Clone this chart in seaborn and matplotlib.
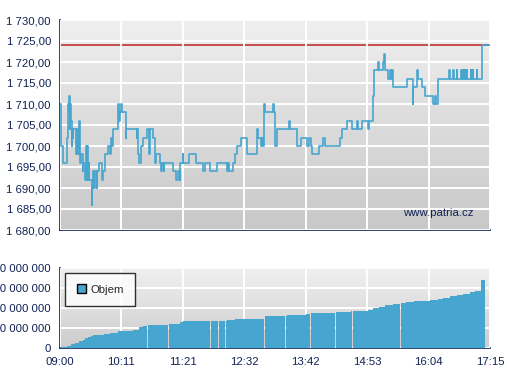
import numpy as np
import pandas as pd
import matplotlib.pyplot as plt
from matplotlib.patches import Patch
import seaborn as sns

# price trades: minutes after 09:00, price (step line)
price_t = [0, 1.2, 3.8, 7.7, 8.9, 10.0, 10.7, 11.2, 11.9, 12.7, 13.5, 14.2, 14.6, 15.3, 18.4, 19.6, 20.7,
           22.2, 23.0, 24.2, 26.1, 26.8, 28.8, 29.9, 30.7, 31.4, 32.2, 33.0, 33.7, 36.5, 37.2, 38.0, 39.1,
           39.9, 42.2, 42.9, 45.2, 48.4, 49.5, 51.5, 55.6, 57.6, 58.7, 59.9, 61.4, 67.1, 67.9, 69.1, 70.2,
           71.4, 75.6, 76.0, 88.3, 88.6, 90.1, 91.3, 93.2, 95.9, 99.8, 102.5, 103.3, 106.7, 109.4, 110.5,
           115.1, 116.6, 117.1, 119.7, 120.1, 130.4, 133.5, 136.2, 138.1, 138.5, 141.2, 141.9, 148.9, 156.6,
           164.3, 166.6, 172.7, 180.4, 192.6, 193.4, 194.2, 199.5, 201.5, 203.4, 208.4, 214.9, 226.4, 227.1,
           227.9, 231.4, 232.5, 233.7, 234.8, 236.0, 244.8, 246.4, 247.5, 250.2, 263.3, 264.4, 272.5, 277.1,
           284.0, 287.0, 289.3, 290.5, 298.5, 303.1, 305.4, 322.3, 324.3, 330.0, 335.8, 341.6, 343.4, 347.3,
           354.9, 356.1, 360.7, 361.8, 365.7, 366.9, 371.5, 372.6, 374.1, 378.0, 379.5, 381.0, 381.8, 383.7,
           399.1, 406.0, 406.7, 410.6, 412.5, 416.4, 420.2, 429.8, 431.7, 432.9, 435.5, 448.2, 448.7, 452.8,
           453.3, 456.6, 457.1, 461.6, 462.2, 462.8, 463.5, 464.1, 464.8, 465.4, 466.1, 466.7, 467.4, 468.0,
           468.9, 473.1, 473.6, 475.0, 475.5, 479.7, 480.2, 486.2, 495]
price_v = [1710, 1700, 1696, 1702, 1710, 1708, 1712, 1704, 1710, 1706, 1700, 1704, 1702, 1704, 1698, 1704, 1698,
           1706, 1696, 1698, 1694, 1696, 1692, 1700, 1692, 1700, 1692, 1696, 1692, 1686, 1690, 1694, 1690,
           1694, 1690, 1694, 1696, 1692, 1694, 1698, 1700, 1698, 1702, 1700, 1704, 1710, 1706, 1708, 1710,
           1708, 1702, 1704, 1702, 1704, 1698, 1696, 1700, 1702, 1704, 1698, 1704, 1702, 1696, 1698,
           1696, 1694, 1696, 1694, 1696, 1694, 1692, 1694, 1692, 1696, 1698, 1696, 1698, 1696,
           1694, 1696, 1694, 1696, 1694, 1696, 1694, 1696, 1698, 1700, 1702, 1698, 1700, 1704,
           1702, 1700, 1702, 1700, 1710, 1708, 1710, 1708, 1700, 1704, 1706, 1704, 1700, 1702,
           1700, 1702, 1700, 1698, 1700, 1702, 1700, 1702, 1704, 1706, 1704, 1706, 1704, 1706,
           1704, 1706, 1712, 1718, 1720, 1718, 1720, 1722, 1718, 1716, 1718, 1716, 1718, 1714,
           1716, 1710, 1714, 1718, 1716, 1714, 1712, 1710, 1712, 1710, 1716, 1718, 1716, 1718,
           1716, 1718, 1716, 1718, 1716, 1718, 1716, 1718, 1716, 1718, 1716, 1718, 1716, 1718,
           1716, 1718, 1716, 1718, 1716, 1718, 1716, 1724, 1724]
last_price = 1724

# cumulative volume steps: start minute, level (x 100 000 000)
vol_t = [0, 7.7, 12.3, 17.3, 22.2, 26.1, 29.2, 32.2, 35.3, 38.4, 43.0, 50.7, 57.6, 67.1, 84.4, 91.3, 95.2,
         101.7, 124.7, 138.1, 141.2, 191.9, 201.5, 206.4, 234.8, 260.9, 283.2, 287.8, 294.7, 316.6, 334.6,
         354.9, 360.7, 367.6, 374.1, 383.0, 391.4, 398.3, 407.5, 425.9, 435.5, 441.3, 449.0, 456.6, 464.3,
         472.0, 477.7, 484.7]
vol_v = [0.05, 0.12, 0.2, 0.27, 0.33, 0.42, 0.48, 0.53, 0.58, 0.63, 0.67, 0.72, 0.77, 0.87, 0.92, 1.07, 1.12,
         1.17, 1.22, 1.28, 1.33, 1.38, 1.43, 1.47, 1.62, 1.67, 1.72, 1.73, 1.77, 1.82, 1.87,
         1.92, 2.0, 2.05, 2.15, 2.2, 2.23, 2.28, 2.37, 2.4, 2.47, 2.52, 2.6, 2.65, 2.7,
         2.8, 2.85, 3.42]
vol_end = 489.3
vol_gaps = [100.9, 125.8, 147.7, 169.6, 173.8, 183.0, 189.2, 191.1, 236.0, 252.5, 260.2, 288.6, 297.4,
            317.7, 336.9, 392.2, 407.9, 436.7]

time_labels = ['09:00', '10:11', '11:21', '12:32', '13:42', '14:53', '16:04', '17:15']
price_ticks = [1680, 1685, 1690, 1695, 1700, 1705, 1710, 1715, 1720, 1725, 1730]
vol_ticks = [0, 1, 2, 3, 4]

sns.set_style("white")
plt.rcParams['font.family'] = ['Liberation Sans', 'DejaVu Sans']
navy = '#102255'
blue = '#47a6d0'
fs = 8.2

fig = plt.figure(figsize=(5.07, 3.8), dpi=100)
ax = fig.add_axes([60 / 507, 1 - 230 / 380, 430 / 507, 210 / 380])
ax2 = fig.add_axes([60 / 507, 1 - 348 / 380, 430 / 507, 80 / 380])

xt = np.linspace(0, 495, len(time_labels))


def style(a, top, bottom):
    grad = np.linspace(0, 1, 100).reshape(-1, 1)
    cmap = plt.matplotlib.colors.LinearSegmentedColormap.from_list('g', [top, bottom])
    lo, hi = a.get_ylim()
    a.imshow(grad, cmap=cmap, extent=[0, 495, lo, hi], aspect='auto', zorder=0)
    for s in ['top', 'right']:
        a.spines[s].set_visible(False)
    for s in ['left', 'bottom']:
        a.spines[s].set_color(navy)
        a.spines[s].set_linewidth(1.2)
    a.set_xlim(0, 495)
    a.set_xticks(xt)
    a.grid(True, color='white', linewidth=1.4, zorder=1)
    a.set_axisbelow(False)
    a.tick_params(axis='both', direction='out', length=4, width=1, color=navy, labelcolor=navy,
                  labelsize=fs, pad=2.5)


# price panel
df = pd.DataFrame({'t': price_t, 'p': price_v})
ax.set_ylim(1680, 1730)
style(ax, '#efefef', '#c8c8c8')
sns.lineplot(data=df, x='t', y='p', ax=ax, drawstyle='steps-post', color=blue, linewidth=1.2,
             estimator=None, sort=False, zorder=3)
ax.axhline(last_price, color='#c23030', linewidth=1.2, zorder=2)
ax.set_ylim(1680, 1730)
ax.set_yticks(price_ticks)
ax.set_yticklabels([f"{v:,.2f}".replace(',', ' ').replace('.', ',') for v in price_ticks])
ax.set_xticklabels([])
ax.set_xlabel('')
ax.set_ylabel('')
ax.text(0.797, 0.081, 'www.patria.cz', transform=ax.transAxes, color=navy, fontsize=fs,
        va='center', ha='left', zorder=4)

# volume panel
ax2.set_ylim(0, 4)
style(ax2, '#f0f0f0', '#cccccc')
edges = sorted(set(vol_t) | set(vol_gaps))
edges.append(vol_end)
for i in range(len(edges) - 1):
    start = edges[i]
    nxt = edges[i + 1]
    level = vol_v[np.searchsorted(vol_t, start, side='right') - 1]
    w = nxt - start - (0.9 if nxt in vol_gaps else 0)
    ax2.bar(start, level, width=w, align='edge', color=blue, linewidth=0, zorder=3)
ax2.set_ylim(0, 4)
ax2.set_yticks(vol_ticks)
ax2.set_yticklabels([f"{int(v * 100000000):,}".replace(',', ' ') for v in vol_ticks])
ax2.set_xticklabels(time_labels)
leg = ax2.legend(handles=[Patch(facecolor=blue, edgecolor='black', linewidth=1)], labels=['Objem'],
                 loc='upper left', bbox_to_anchor=(0.012, 0.94), fontsize=fs, frameon=True,
                 fancybox=False, handlelength=0.8, handleheight=0.8, handletextpad=0.4,
                 borderpad=1.0, borderaxespad=0)
leg.get_frame().set_edgecolor('black')
leg.get_frame().set_facecolor((1, 1, 1, 0.3))
leg.get_frame().set_linewidth(1)
leg.set_zorder(5)

fig.savefig('out.png', dpi=100)
